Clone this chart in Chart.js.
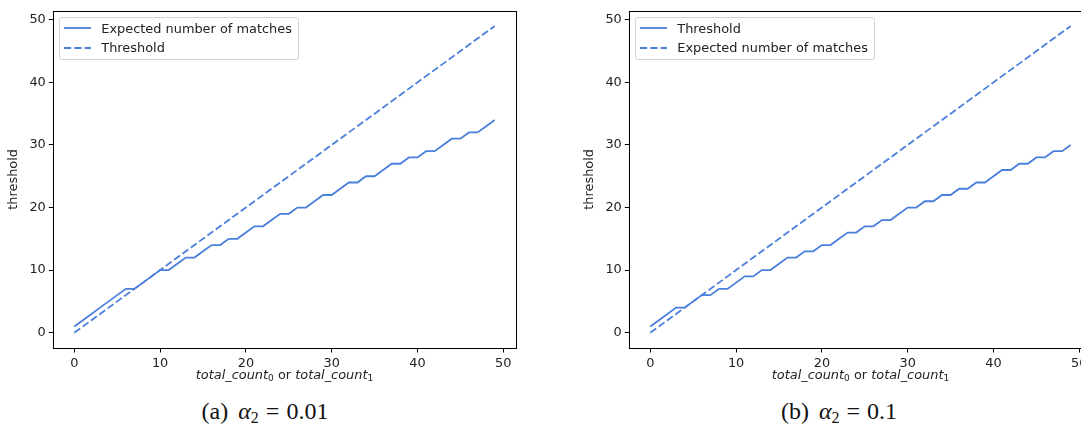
<!DOCTYPE html>
<html>
<head>
<meta charset="utf-8">
<script src="https://cdn.jsdelivr.net/npm/chart.js@4.4.1/dist/chart.umd.min.js"></script>
<style>
  html, body { margin: 0; padding: 0; background: #fff; }
  body { width: 1081px; height: 430px; overflow: hidden; position: relative; }
  .panel { position: absolute; top: 0; width: 540px; height: 390px; }
  .panel canvas { position: absolute; left: 0; top: 0; }
  .legend {
    position: absolute; background: rgba(255,255,255,0.8);
    border: 1px solid #d4d4d4; border-radius: 3px;
    padding: 0 6px 1.5px 4px;
    font-family: 'DejaVu Sans', sans-serif; font-size: 12.9px; color: #222;
  }
  .legend .row { height: 19.5px; display: flex; align-items: center; white-space: nowrap; }
  .legend svg { margin-right: 10px; flex: none; }
  .caption {
    position: absolute; top: 398px; white-space: nowrap; line-height: 26px;
    font-family: 'Liberation Serif', serif; font-size: 24px; color: #111;
    transform: translateX(-50%); word-spacing: 2px;
  }
  .caption .eq { margin: 0 7px; }
  .caption i { margin-left: 2px; }
  .caption sub { font-size: 16px; line-height: 0; vertical-align: -4px; }
</style>
</head>
<body>
<div class="panel" id="panelA" style="left:0px"><canvas id="chartA" width="540" height="390"></canvas></div>
<div class="panel" id="panelB" style="left:576px"><canvas id="chartB" width="540" height="390"></canvas></div>
<div class="caption" style="left:265px">(a) <i>α</i><sub>2</sub><span class="eq">=</span>0.01</div>
<div class="caption" style="left:839px">(b) <i>α</i><sub>2</sub><span class="eq">=</span>0.1</div>
<script>
// x values shared by every series
const totalCounts = [0,1,2,3,4,5,6,7,8,9,10,11,12,13,14,15,16,17,18,19,20,21,22,23,24,
  25,26,27,28,29,30,31,32,33,34,35,36,37,38,39,40,41,42,43,44,45,46,47,48,49]

// (a) alpha2 = 0.01
const expectedMatchesA = [1,2,3,4,5,6,7,7,8,9, 10,10,11,12,12,13,14,14,15,15,
  16,17,17,18,19,19,20,20,21,22, 22,23,24,24,25,25,26,27,27,28, 28,29,29,30,31,31,32,32,33,34]
const thresholdA = [0,1,2,3,4,5,6,7,8,9,10,11,12,13,14,15,16,17,18,19,20,21,22,23,24,
  25,26,27,28,29,30,31,32,33,34,35,36,37,38,39,40,41,42,43,44,45,46,47,48,49]

// (b) alpha2 = 0.1
const thresholdB = [1,2,3,4,4,5,6,6,7,7, 8,9,9,10,10,11,12,12,13,13,
  14,14,15,16,16,17,17,18,18,19, 20,20,21,21,22,22,23,23,24,24, 25,26,26,27,27,28,28,29,29,30]
const expectedMatchesB = [0,1,2,3,4,5,6,7,8,9,10,11,12,13,14,15,16,17,18,19,20,21,22,23,24,
  25,26,27,28,29,30,31,32,33,34,35,36,37,38,39,40,41,42,43,44,45,46,47,48,49]

const xTicks = [0, 10, 20, 30, 40, 50]
const yTicks = [0, 10, 20, 30, 40, 50]
const yTitle = 'threshold'
// italic / subscript pieces of the x label
const xTitleParts = [
  { text: 'total_count', style: 'italic', sub: false },
  { text: '0', style: 'normal', sub: true },
  { text: ' or ', style: 'normal', sub: false },
  { text: 'total_count', style: 'italic', sub: false },
  { text: '1', style: 'normal', sub: true }
]

const lineColor = '#4a7fdc'
const textColor = '#222'
const fontFamily = "'DejaVu Sans', sans-serif"
const fontSize = 12.9
const solidDash = []
const dashPattern = [7.2, 3.1]

function toPoints(xs, ys) {
  return xs.map((x, i) => ({ x: x, y: ys[i] }))
}

const frameBox = {
  id: 'frameBox',
  afterDraw(chart) {
    const { ctx, chartArea } = chart
    const l = Math.round(chartArea.left) + 0.5
    const t = Math.round(chartArea.top) + 0.5
    const r = Math.round(chartArea.right) + 0.5
    const b = Math.round(chartArea.bottom) + 0.5
    ctx.save()
    ctx.strokeStyle = '#000'
    ctx.lineWidth = 1
    ctx.strokeRect(l, t, r - l, b - t)
    ctx.restore()
  }
}

const xTitle = {
  id: 'xTitle',
  afterDraw(chart) {
    const { ctx, chartArea } = chart
    const fontFor = p => `${p.style} ${p.sub ? fontSize * 0.7 : fontSize}px ${fontFamily}`
    ctx.save()
    ctx.fillStyle = textColor
    ctx.textBaseline = 'alphabetic'
    ctx.textAlign = 'left'
    let total = 0
    xTitleParts.forEach(p => { ctx.font = fontFor(p); total += ctx.measureText(p.text).width })
    let x = (chartArea.left + chartArea.right) / 2 - total / 2
    const y = chartArea.bottom + 30.5
    xTitleParts.forEach(p => {
      ctx.font = fontFor(p)
      ctx.fillText(p.text, x, p.sub ? y + 2.6 : y)
      x += ctx.measureText(p.text).width
    })
    ctx.restore()
  }
}

function axisOptions(ticks, isY) {
  const opts = {
    type: 'linear',
    min: -2.45,
    max: 51.45,
    afterBuildTicks: scale => { scale.ticks = ticks.map(v => ({ value: v })) },
    grid: { drawOnChartArea: false, drawTicks: true, tickLength: 4.5, color: '#000', lineWidth: 1 },
    border: { display: false },
    ticks: {
      padding: 3, color: textColor, maxRotation: 0, autoSkip: false,
      font: { family: fontFamily, size: fontSize }
    }
  }
  if (isY) {
    opts.afterFit = scale => { scale.width = 53.3 }
    opts.title = {
      display: true, text: yTitle, color: textColor,
      padding: { top: 5.8, bottom: 0 },
      font: { family: fontFamily, size: fontSize }
    }
  } else {
    opts.afterFit = scale => { scale.height = 42 }
  }
  return opts
}

function buildLegend(chart, panel) {
  const box = document.createElement('div')
  box.className = 'legend'
  box.style.left = (chart.chartArea.left + 6) + 'px'
  box.style.top = (chart.chartArea.top + 6.7) + 'px'
  chart.data.datasets.forEach(ds => {
    const row = document.createElement('div')
    row.className = 'row'
    const dash = ds.borderDash.length ? ds.borderDash.join(',') : 'none'
    row.innerHTML = `<svg width="27" height="4"><line x1="0" y1="2" x2="27" y2="2" stroke="${ds.borderColor}" stroke-width="${ds.borderWidth}" stroke-dasharray="${dash}"/></svg><span>${ds.label}</span>`
    box.appendChild(row)
  })
  panel.appendChild(box)
}

function makeChart(canvasId, panelId, series) {
  const datasets = series.map(s => ({
    label: s.label,
    data: toPoints(totalCounts, s.values),
    borderColor: lineColor,
    borderWidth: 1.8,
    borderDash: s.dash,
    pointRadius: 0,
    fill: false,
    tension: 0
  }))
  const chart = new Chart(document.getElementById(canvasId), {
    type: 'line',
    data: { datasets },
    options: {
      responsive: false,
      animation: false,
      devicePixelRatio: 1,
      layout: { padding: { top: 5, right: 24.3, left: 0, bottom: 0 } },
      plugins: { legend: { display: false }, tooltip: { enabled: false } },
      scales: { x: axisOptions(xTicks, false), y: axisOptions(yTicks, true) }
    },
    plugins: [frameBox, xTitle]
  })
  buildLegend(chart, document.getElementById(panelId))
  return chart
}

makeChart('chartA', 'panelA', [
  { label: 'Expected number of matches', values: expectedMatchesA, dash: solidDash },
  { label: 'Threshold', values: thresholdA, dash: dashPattern }
])

makeChart('chartB', 'panelB', [
  { label: 'Threshold', values: thresholdB, dash: solidDash },
  { label: 'Expected number of matches', values: expectedMatchesB, dash: dashPattern }
])
</script>
</body>
</html>
